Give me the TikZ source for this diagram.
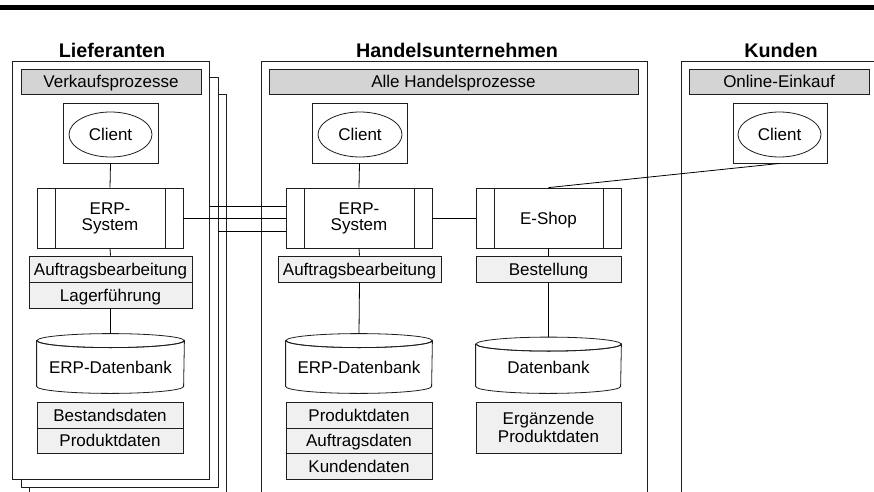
\documentclass[tikz,border=0pt]{standalone}
\usepackage{fontspec}
\setmainfont{Liberation Sans}
\usetikzlibrary{shapes.geometric,calc}
\definecolor{hdrgray}{RGB}{212,212,212}
\definecolor{lboxgray}{RGB}{240,240,240}
\definecolor{lineclr}{RGB}{30,30,30}
\newcommand{\drawDBcyl}[2]{%
  \draw[draw=lineclr,fill=white] (#1.north west) -- (#1.south west)
    arc[start angle=180,end angle=0,x radius=#2,y radius=7] -- (#1.north east)
    arc[start angle=0,end angle=180,x radius=#2,y radius=7] -- cycle;
  \draw[draw=lineclr] (#1.north) ellipse[x radius=#2,y radius=7];}
\begin{document}
\begin{tikzpicture}[x=0.75pt,y=-0.75pt,line width=0.6pt,
  every node/.style={inner sep=0pt,font=\fontsize{12.75}{12}\selectfont,
    text height=9.2pt,text depth=-2pt},
  multi/.style={text height=,text depth=,align=center},
  sz/.style 2 args={minimum width=#1*0.75pt,minimum height=#2*0.75pt},
  frame/.style={draw=lineclr,fill=white,rectangle},
  ttl/.style={font=\bfseries\fontsize{14.8}{16}\selectfont,text height=10.6pt,text depth=0pt},
  hdr/.style={draw=lineclr,fill=hdrgray,rectangle},
  lbox/.style={draw=lineclr,fill=lboxgray,rectangle},
  cbox/.style={draw=lineclr,fill=white,rectangle},
  cell/.style={draw=lineclr,fill=white,ellipse},
  dbnode/.style={rectangle},
  sysbox/.style={draw=lineclr,fill=white,rectangle,
    path picture={
      \draw[lineclr] ([xshift=13.5pt]path picture bounding box.north west) -- ([xshift=13.5pt]path picture bounding box.south west);
      \draw[lineclr] ([xshift=-13.5pt]path picture bounding box.north east) -- ([xshift=-13.5pt]path picture bounding box.south east);}},
  conn/.style={draw=black,line width=0.6pt}
]
\useasboundingbox (0,0) rectangle (874,492);
\clip (0,0) rectangle (874,492);
\fill[black] (0,5) rectangle (874,10);

% ---------- Lieferanten ----------
\node[frame,sz={197}{410}] (page3) at (127.5,299) {};
\node[frame,sz={197}{410}] (page2) at (119.5,282) {};
\node[frame,sz={197}{418}] (page1) at (110.5,270) {};
\node[ttl] (titleL) at (112,50.5) {Lieferanten};
\node[hdr,sz={180}{25}] (hdrL) at (111,81.5) {Verkaufsprozesse};
\node[cbox,sz={95}{60}] (clientboxL) at (110.5,133) {};
\node[cell,sz={83}{45}] (clientL) at (110.5,134.5) {Client};
\node[sysbox,multi,sz={146}{60}] (erpL) at (110,218) {ERP-\\System};
\node[lbox,sz={163}{26}] (auftL) at (110.5,269) {Auftragsbearbeitung};
\node[lbox,sz={163}{26}] (lagerL) at (110.5,295) {Lagerführung};
\node[dbnode,sz={147}{45}] (dbL) at (110.5,363.5) {};
\drawDBcyl{dbL}{73.5}
\node (dbLlabel) at (110.5,367) {ERP-Datenbank};
\coordinate (dbLtop) at ($(dbL.north)+(0,-7)$);
\node[lbox,sz={146}{26}] (bestL) at (110,415) {Bestandsdaten};
\node[lbox,sz={146}{25}] (prodL) at (110,440.5) {Produktdaten};

% ---------- Handelsunternehmen ----------
\node[frame,sz={386}{449}] (boxH) at (454,285.5) {};
\node[ttl] (titleH) at (457,50.5) {Handelsunternehmen};
\node[hdr,sz={369}{25}] (hdrH) at (453.5,81.5) {Alle Handelsprozesse};
\node[cbox,sz={95}{60}] (clientboxH) at (359.5,133) {};
\node[cell,sz={84}{45}] (clientH) at (360,134.5) {Client};
\node[sysbox,multi,sz={146}{60}] (erpH) at (359,218) {ERP-\\System};
\node[sysbox,sz={145}{60}] (eshop) at (548.5,218) {E-Shop};
\node[lbox,sz={163}{26}] (auftH) at (359.5,269) {Auftragsbearbeitung};
\node[lbox,sz={145}{26}] (bestellung) at (548.5,269) {Bestellung};
\node[dbnode,sz={146}{45}] (dbH) at (359,363.5) {};
\drawDBcyl{dbH}{73}
\node (dbHlabel) at (359,367) {ERP-Datenbank};
\coordinate (dbHtop) at ($(dbH.north)+(0,-7)$);
\node[dbnode,sz={145}{41.5}] (dbE) at (548.5,365.25) {};
\drawDBcyl{dbE}{72.5}
\node (dbElabel) at (548.5,367) {Datenbank};
\coordinate (dbEtop) at ($(dbE.north)+(0,-7)$);
\node[lbox,sz={146}{26}] (prodH) at (359,415) {Produktdaten};
\node[lbox,sz={146}{25}] (auftdH) at (359,440.5) {Auftragsdaten};
\node[lbox,sz={146}{26}] (kundH) at (359,466) {Kundendaten};
\node[lbox,multi,sz={145}{51},font=\fontsize{12.75}{13.3}\selectfont] (ergH) at (548.5,427.5) {Ergänzende\\Produktdaten};

% ---------- Kunden ----------
\node[frame,sz={209}{449}] (boxK) at (785.5,285.5) {};
\node[ttl] (titleK) at (781,50.5) {Kunden};
\node[hdr,sz={180}{25}] (hdrK) at (779,81.5) {Online-Einkauf};
\node[cbox,sz={94}{60}] (clientboxK) at (780,133) {};
\node[cell,sz={83}{45}] (clientK) at (779.5,134.5) {Client};

% ---------- Connectors ----------
\draw[conn] (clientboxL.south) -- (erpL.north);
\draw[conn] (erpL.south) -- (auftL.north);
\draw[conn] (lagerL.south) -- (dbLtop);
\draw[conn] (clientboxH.south) -- (erpH.north);
\draw[conn] (erpH.south) -- (auftH.north);
\draw[conn] (auftH.south) -- (dbHtop);
\draw[conn] (eshop.south) -- (bestellung.north);
\draw[conn] (bestellung.south) -- (dbEtop);
\draw[conn] (erpH.east) -- (eshop.west);
\draw[conn] (eshop.north) -- (clientboxK.south);
\draw[conn] (erpL.east) -- (erpH.west);
\coordinate (c1) at ($(erpH.west)+(0,-12)$);
\coordinate (c2) at ($(erpH.west)+(0,13)$);
\draw[conn] (c1 -| page1.east) -- (c1);
\draw[conn] (c2 -| page2.east) -- (c2);
\end{tikzpicture}
\end{document}
